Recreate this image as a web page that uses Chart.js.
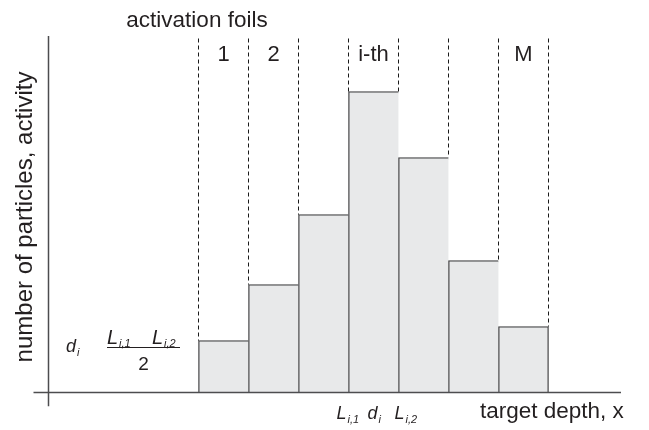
<!DOCTYPE html>
<html>
<head>
<meta charset="utf-8">
<script src="https://cdn.jsdelivr.net/npm/chart.js@4/dist/chart.umd.min.js"></script>
<style>
  html, body { margin: 0; padding: 0; background: #fff; }
  #wrap { width: 649px; height: 430px; position: relative; }
</style>
</head>
<body>
<div id="wrap"><canvas id="c"></canvas></div>
<script>
// Foil stack along the target depth (each foil is one unit thick)
const foilCenters  = [3.5, 4.5, 5.5, 6.5, 7.5, 8.5, 9.5];
// Activity induced in each foil
const foilActivity = [17.3, 36, 59.3, 100.3, 78.3, 44, 22];
// Foil numbering written above the stack
const foilLabels   = ['1', '2', '', 'i-th', '', '', 'M'];
// Index of the foil whose boundaries are annotated under the axis
const markedFoil   = 3;

const FONT = "'Liberation Sans', Arial, Helvetica, sans-serif";
const INK = '#231f20';
const halfFoil = 0.5;
const boundaryTop = 118;   // dashed foil boundaries start at this level

// Foil boundaries: dashed from the top down to the taller neighbouring foil
const boundaries = foilCenters.map(c => c - halfFoil)
  .concat([foilCenters[foilCenters.length - 1] + halfFoil]);
const boundaryData = [];
boundaries.forEach((x, k) => {
  const left = k > 0 ? foilActivity[k - 1] : 0;
  const right = k < foilActivity.length ? foilActivity[k] : 0;
  boundaryData.push({ x, y: boundaryTop }, { x, y: Math.max(left, right) }, { x, y: null });
});

const lastFoil = foilActivity.length - 1;

// Axes crossing at the origin, each running a little past the other
const axesPlugin = {
  id: 'crossAxes',
  afterDatasetsDraw(chart) {
    const { ctx, scales: { x, y } } = chart;
    ctx.save();
    ctx.strokeStyle = '#4d4d4f';
    ctx.lineWidth = 1.5;
    ctx.beginPath();
    ctx.moveTo(x.getPixelForValue(-0.3), y.getPixelForValue(0));
    ctx.lineTo(x.getPixelForValue(11.45), y.getPixelForValue(0));
    ctx.moveTo(x.getPixelForValue(0), y.getPixelForValue(118.8));
    ctx.lineTo(x.getPixelForValue(0), y.getPixelForValue(-4.6));
    ctx.stroke();
    ctx.restore();
  }
};

// Italic symbol with a subscript, e.g. L_{i,1}
function symbol(ctx, x, baseline, main, sub, size, subSize, subDrop) {
  ctx.font = `italic ${size}px ${FONT}`;
  ctx.textAlign = 'left';
  ctx.textBaseline = 'alphabetic';
  ctx.fillText(main, x, baseline);
  const w = ctx.measureText(main).width;
  ctx.font = `italic ${subSize}px ${FONT}`;
  ctx.fillText(sub, x + w + 1, baseline + subDrop);
}

const textPlugin = {
  id: 'annotations',
  afterDraw(chart) {
    const { ctx, scales: { x, y } } = chart;
    ctx.save();
    ctx.fillStyle = INK;

    // heading over the foil stack
    ctx.font = `22.5px ${FONT}`;
    ctx.textAlign = 'center';
    ctx.textBaseline = 'alphabetic';
    ctx.fillText('activation foils', 197, 27);

    // foil numbering
    ctx.font = `22px ${FONT}`;
    foilLabels.forEach((lab, i) => {
      if (lab) ctx.fillText(lab, x.getPixelForValue(foilCenters[i]), 61);
    });

    // vertical axis title
    ctx.save();
    ctx.translate(25, 217);
    ctx.rotate(-Math.PI / 2);
    ctx.font = `24px ${FONT}`;
    ctx.textAlign = 'center';
    ctx.textBaseline = 'middle';
    ctx.fillText('number of particles, activity', 0, 0);
    ctx.restore();

    // horizontal axis title
    ctx.font = `22.5px ${FONT}`;
    ctx.textAlign = 'left';
    ctx.fillText('target depth, x', 480, 418);

    // boundaries and mid-depth of the marked foil
    const c = foilCenters[markedFoil];
    symbol(ctx, x.getPixelForValue(c - halfFoil) - 12, 419, 'L', 'i,1', 18, 11, 4);
    symbol(ctx, x.getPixelForValue(c) - 6, 419, 'd', 'i', 18, 11, 4);
    symbol(ctx, x.getPixelForValue(c + halfFoil) - 4, 419, 'L', 'i,2', 18, 11, 4);

    // mid-depth definition
    symbol(ctx, 66, 352, 'd', 'i', 18, 11, 4);
    symbol(ctx, 107, 344, 'L', 'i,1', 20, 11, 3);
    symbol(ctx, 152, 344, 'L', 'i,2', 20, 11, 3);
    ctx.strokeStyle = INK;
    ctx.lineWidth = 1.1;
    ctx.beginPath();
    ctx.moveTo(107, 347.5);
    ctx.lineTo(180, 347.5);
    ctx.stroke();
    ctx.font = `19px ${FONT}`;
    ctx.textAlign = 'center';
    ctx.fillText('2', 143.5, 370);

    ctx.restore();
  }
};

new Chart(document.getElementById('c'), {
  data: {
    datasets: [
      {
        type: 'bar',
        data: foilCenters.map((xv, i) => ({ x: xv, y: foilActivity[i] })),
        backgroundColor: '#e8e9ea',
        borderColor: '#3f3f41',
        borderWidth: ctx => ({
          top: 1.3,
          left: 1.3,
          right: ctx.dataIndex === lastFoil ? 1.3 : 0,
          bottom: 0
        }),
        borderSkipped: false,
        barPercentage: 1,
        categoryPercentage: 1,
        order: 2
      },
      {
        type: 'line',
        data: boundaryData,
        borderColor: '#1a1a1a',
        borderWidth: 1,
        borderDash: [4, 3],
        pointRadius: 0,
        spanGaps: false,
        fill: false,
        order: 1
      }
    ]
  },
  options: {
    responsive: true,
    maintainAspectRatio: false,
    animation: false,
    events: [],
    layout: { padding: { left: 48.5, right: 0.5, top: 32.5, bottom: 22.5 } },
    plugins: { legend: { display: false }, tooltip: { enabled: false }, title: { display: false } },
    scales: {
      x: { type: 'linear', min: 0, max: 12, offset: false, display: false, ticks: { stepSize: 1 } },
      y: { type: 'linear', min: -5, max: 120, display: false }
    }
  },
  plugins: [axesPlugin, textPlugin]
});
</script>
</body>
</html>
